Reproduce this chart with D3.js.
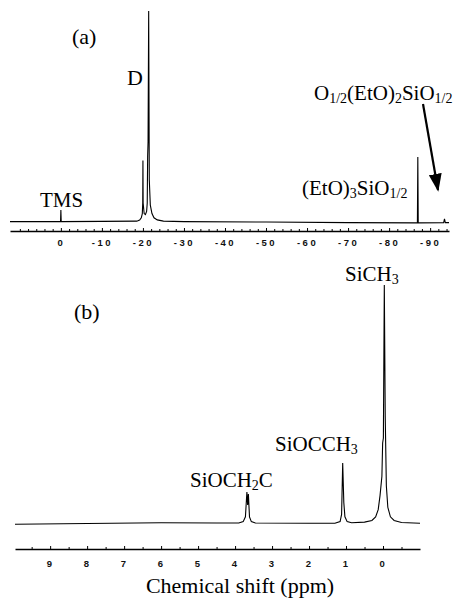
<!DOCTYPE html>
<html>
<head>
<meta charset="utf-8">
<script src="https://cdn.jsdelivr.net/npm/d3@7"></script>
<style>
  html, body { margin: 0; padding: 0; background: #fff; }
  svg { display: block; }
  .serif { font-family: "Liberation Serif", "Times New Roman", serif; fill: #000; }
  .tick text { font-family: "Liberation Sans", Arial, sans-serif; font-weight: bold; font-size: 9.5px; letter-spacing: 2.5px; fill: #111; }
</style>
</head>
<body>
<svg id="chart"></svg>
<script>
// panel (a): 29Si spectrum, [ppm, relative intensity]
const siSpectrum = [
  [12.4, 0.2], [5, 0.2], [0.08, 0.2], [0, 5.7], [-0.08, 0.2],
  [-10, 0.3], [-18.5, 0.4], [-19.2, 0.9], [-19.6, 2], [-19.85, 4],
  [-19.95, 9], [-20.0, 29.2], [-20.05, 9], [-20.3, 4], [-20.6, 3.5],
  [-20.9, 5], [-21.05, 9], [-21.15, 31], [-21.25, 38], [-21.4, 100],
  [-21.55, 20], [-21.8, 8], [-22.2, 4], [-22.7, 2], [-23.5, 1],
  [-25, 0.4], [-30, 0.2], [-50, 0], [-70, -0.3], [-86.9, -0.4],
  [-87.0, 30.8], [-87.1, -0.4], [-93.3, -0.3], [-93.5, 1.5],
  [-93.7, -0.3], [-94.6, -0.3]
]
const siTicks = [0, -10, -20, -30, -40, -50, -60, -70, -80, -90]
const siMinorTicks = [10, 8, 6, 4, 2, -2, -4, -6, -8, -12, -14, -16, -18, -22, -24, -26, -28,
  -32, -34, -36, -38, -42, -44, -46, -48, -52, -54, -56, -58, -62, -64, -66, -68,
  -72, -74, -76, -78, -82, -84, -86, -88, -92, -94]

// panel (b): 1H spectrum, [ppm, relative intensity]
const hSpectrum = [
  [9.95, -0.1], [8, 0.2], [6, 0.5], [4.5, 0.4], [3.9, 0.4], [3.78, 1],
  [3.72, 3], [3.68, 13.4], [3.66, 8], [3.64, 12.5], [3.61, 3], [3.56, 1],
  [3.45, 0.4], [2, 0.3], [1.3, 0.3], [1.16, 1], [1.12, 4], [1.09, 25.5],
  [1.06, 9], [1.03, 3], [0.97, 1], [0.85, 0.5], [0.5, 0.8], [0.3, 1.5],
  [0.2, 3], [0.13, 6], [0.08, 12], [0.03, 20], [0.01, 33.9], [-0.01, 36],
  [-0.035, 100], [-0.06, 45], [-0.09, 16], [-0.13, 7], [-0.2, 3],
  [-0.3, 1.5], [-0.5, 0.6], [-1, 0.3]
]
const hTicks = [9, 8, 7, 6, 5, 4, 3, 2, 1, 0]
const hMinorTicks = [9.5, 8.5, 7.5, 6.5, 5.5, 4.5, 3.5, 2.5, 1.5, 0.5, -0.5]

const width = 459
const height = 598

const svg = d3.select('#chart')
  .attr('width', width)
  .attr('height', height)

const lineFor = (x, y) => d3.line().x(d => x(d[0])).y(d => y(d[1]))

// ---- panel (a)
const xA = d3.scaleLinear().domain([12.4, -94.6]).range([10, 449])
const yA = d3.scaleLinear().domain([0, 100]).range([222, 11])

svg.append('path')
  .datum(siSpectrum)
  .attr('d', lineFor(xA, yA))
  .attr('fill', 'none')
  .attr('stroke', '#000')
  .attr('stroke-width', 1.1)

const axisA = svg.append('g').attr('transform', 'translate(0,231)')
axisA.call(d3.axisBottom(xA).tickValues(siTicks).tickFormat(d => String(d))
  .tickSizeInner(-3).tickSizeOuter(0).tickPadding(8))
axisA.select('.domain').attr('stroke', '#000').attr('stroke-width', 1.5)

svg.append('g').attr('transform', 'translate(0,231)')
  .call(d3.axisBottom(xA).tickValues(siMinorTicks).tickFormat('').tickSizeInner(-2).tickSizeOuter(0))
  .call(g => g.select('.domain').remove())

// ---- panel (b)
const xB = d3.scaleLinear().domain([9.95, -1]).range([15, 420])
const yB = d3.scaleLinear().domain([0, 100]).range([524, 285])

svg.append('path')
  .datum(hSpectrum)
  .attr('d', lineFor(xB, yB))
  .attr('fill', 'none')
  .attr('stroke', '#000')
  .attr('stroke-width', 1.1)

const axisB = svg.append('g').attr('transform', 'translate(0,549)')
axisB.call(d3.axisBottom(xB).tickValues(hTicks).tickFormat(d => String(d))
  .tickSizeInner(-3).tickSizeOuter(0).tickPadding(11))
axisB.select('.domain').attr('stroke', '#000').attr('stroke-width', 1.5)

svg.append('g').attr('transform', 'translate(0,549)')
  .call(d3.axisBottom(xB).tickValues(hMinorTicks).tickFormat('').tickSizeInner(-2).tickSizeOuter(0))
  .call(g => g.select('.domain').remove())

svg.selectAll('.tick line').attr('stroke', '#000')

// ---- labels with subscripts
const label = (x, y, parts, size = 21) => {
  const t = svg.append('text')
    .attr('class', 'serif')
    .attr('x', x)
    .attr('y', y)
    .style('font-size', `${size}px`)
  let down = false
  parts.forEach(p => {
    const isSub = p.startsWith('_')
    const s = t.append('tspan').text(isSub ? p.slice(1) : p)
    if (isSub) {
      s.style('font-size', `${Math.round(size * 0.66)}px`)
      if (!down) s.attr('dy', 3)
      down = true
    } else if (down) {
      s.attr('dy', -3)
      down = false
    }
  })
  return t
}

label(72, 44, ['(a)'], 22)
label(127, 85, ['D'], 22)
label(40, 207, ['TMS'])
label(314, 100, ['O', '_1/2', '(EtO)', '_2', 'SiO', '_1/2'])
label(302, 195, ['(EtO)', '_3', 'SiO', '_1/2'])

label(74, 319, ['(b)'], 22)
label(345, 281, ['SiCH', '_3'])
label(275, 451, ['SiOCCH', '_3'])
label(190, 487, ['SiOCH', '_2', 'C'])

svg.append('text')
  .attr('class', 'serif')
  .attr('x', 240)
  .attr('y', 593)
  .attr('text-anchor', 'middle')
  .style('font-size', '22px')
  .text('Chemical shift (ppm)')

// arrow pointing at the small -93.5 ppm peak
const defs = svg.append('defs')
defs.append('marker')
  .attr('id', 'head')
  .attr('viewBox', '0 0 10 10')
  .attr('refX', 9)
  .attr('refY', 5)
  .attr('markerWidth', 18)
  .attr('markerHeight', 13)
  .attr('markerUnits', 'userSpaceOnUse')
  .attr('orient', 'auto')
  .attr('preserveAspectRatio', 'none')
  .append('path')
  .attr('d', 'M0,0 L10,5 L0,10 Z')
  .attr('fill', '#000')

svg.append('line')
  .attr('x1', 423).attr('y1', 104)
  .attr('x2', 438).attr('y2', 190)
  .attr('stroke', '#000')
  .attr('stroke-width', 2.2)
  .attr('marker-end', 'url(#head)')
</script>
</body>
</html>
